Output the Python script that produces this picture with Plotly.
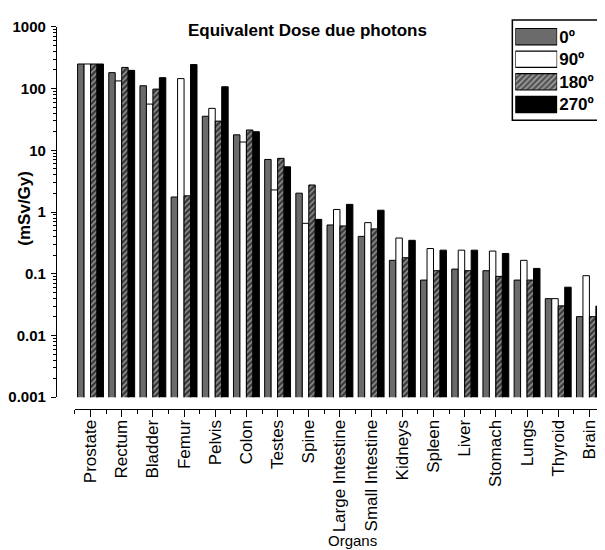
import plotly.graph_objects as go

organs = ["Prostate", "Rectum", "Bladder", "Femur", "Pelvis", "Colon", "Testes",
          "Spine", "Large Intestine", "Small Intestine", "Kidneys", "Spleen",
          "Liver", "Stomach", "Lungs", "Thyroid", "Brain"]
series_names = ["0º", "90º", "180º", "270º"]

dose_0 = [250, 181, 111, 1.75, 35.6, 17.8, 7.1, 2.02, 0.617, 0.403, 0.165, 0.079,
          0.119, 0.112, 0.079, 0.0395, 0.0202]
dose_90 = [250, 133, 56, 145, 47.8, 13.6, 2.28, 0.656, 1.10, 0.673, 0.379, 0.256,
           0.241, 0.233, 0.165, 0.0395, 0.093]
dose_180 = [250, 220, 98, 1.83, 29.7, 21.3, 7.4, 2.74, 0.595, 0.533, 0.182, 0.112,
            0.112, 0.0907, 0.079, 0.0302, 0.0202]
dose_270 = [250, 197, 150, 245, 107, 20, 5.4, 0.76, 1.33, 1.07, 0.348, 0.241,
            0.241, 0.213, 0.122, 0.0606, 0.0299]

series_values = [dose_0, dose_90, dose_180, dose_270]
fill_colors = ["#6b6b6b", "#ffffff", "#555555", "#000000"]
pattern_shapes = ["", "", "/", ""]

# page is offset by the default body margin (8 px)
OFF = 8
W, H = 605 - OFF, 550 - OFF
ML, MR, MT, MB = 54 - OFF, 0, 2, 550 - 409
PW = W - ML - MR
PH = H - MT - MB

def px_x(p):
    return (p - OFF - ML) / PW

def px_y(p):
    return (H - MB - (p - OFF)) / PH

FONT = "Arial, Liberation Sans, sans-serif"

fig = go.Figure()
xpos = list(range(len(organs)))
for name, vals, col, shp in zip(series_names, series_values, fill_colors, pattern_shapes):
    marker = dict(color=col, line=dict(color="black", width=1))
    if shp:
        marker["pattern"] = dict(shape=shp, fgcolor="#ffffff", bgcolor="#3a3a3a",
                                 size=4, solidity=0.35)
    fig.add_trace(go.Bar(x=xpos, y=vals, name=name, marker=marker, showlegend=False))

# legend swatches drawn as a small bar chart on an auxiliary axis pair
leg_marker = dict(color=fill_colors, line=dict(color="black", width=1.2),
                  pattern=dict(shape=pattern_shapes, fgcolor="#ffffff",
                               bgcolor=["#6b6b6b", "#ffffff", "#3a3a3a", "#000000"],
                               size=4, solidity=0.35))
fig.add_trace(go.Bar(y=series_names, x=[1] * len(series_names), orientation="h",
                     width=0.72, marker=leg_marker, xaxis="x2", yaxis="y2",
                     showlegend=False, hoverinfo="skip"))

fig.update_layout(
    width=W, height=H,
    margin=dict(l=ML, r=MR, t=MT, b=MB),
    paper_bgcolor="white", plot_bgcolor="white",
    barmode="group", bargap=0.17, bargroupgap=0,
    showlegend=False,
    font=dict(family=FONT, color="black"),
    xaxis=dict(
        domain=[px_x(73), 1], anchor="free", position=0,
        range=[-0.5, 16.5], tickmode="array", tickvals=xpos, ticktext=organs,
        tickangle=-90, tickfont=dict(size=17, family=FONT), ticklabelstandoff=-4,
        ticks="outside", ticklen=7, tickwidth=1, tickcolor="black",
        showline=True, linecolor="black", linewidth=1.2, showgrid=False, zeroline=False,
        minor=dict(tick0=0.5, dtick=1, ticks="outside", ticklen=4, tickcolor="black",
                   showgrid=False),
    ),
    yaxis=dict(
        type="log", range=[-3, 3], domain=[px_y(397), px_y(20)],
        anchor="free", position=0,
        tickvals=[0.001, 0.01, 0.1, 1, 10, 100, 1000],
        ticktext=["0.001", "0.01", "0.1", "1", "10", "100", "1000"],
        tickfont=dict(size=15, family=FONT, weight="bold"), ticklabelstandoff=2,
        ticks="outside", ticklen=5, tickwidth=1, tickcolor="black",
        showline=True, linecolor="black", linewidth=1.2, showgrid=False, zeroline=False,
        minor=dict(dtick="D1", ticks="outside", ticklen=3, tickcolor="black",
                   showgrid=False),
    ),
    xaxis2=dict(domain=[px_x(515), px_x(557)], range=[0, 1], visible=False,
                anchor="y2", fixedrange=True),
    yaxis2=dict(domain=[px_y(110.5), px_y(18.5)], anchor="x2", side="right",
                autorange="reversed", type="category", showgrid=False, showline=False,
                zeroline=False, ticks="", ticklabelstandoff=1,
                tickfont=dict(size=17, family=FONT, weight="bold")),
    shapes=[dict(type="rect", xref="paper", yref="paper",
                 x0=px_x(512), x1=px_x(602), y0=px_y(115), y1=px_y(13),
                 line=dict(color="black", width=1.5))],
    annotations=[
        dict(text="<b>Equivalent Dose due photons</b>", xref="paper", yref="paper",
             x=px_x(306), y=px_y(24), xanchor="center", yanchor="middle",
             showarrow=False, font=dict(size=17, family=FONT)),
        dict(text="<b>(mSv/Gy)</b>", xref="paper", yref="paper",
             x=px_x(22), y=px_y(205), xanchor="center", yanchor="middle",
             textangle=-90, showarrow=False, font=dict(size=17, family=FONT)),
        dict(text="Organs", xref="paper", yref="paper",
             x=px_x(352), y=px_y(532), xanchor="center", yanchor="top",
             showarrow=False, font=dict(size=15, family=FONT)),
    ],
)

fig.write_html("out.html")
